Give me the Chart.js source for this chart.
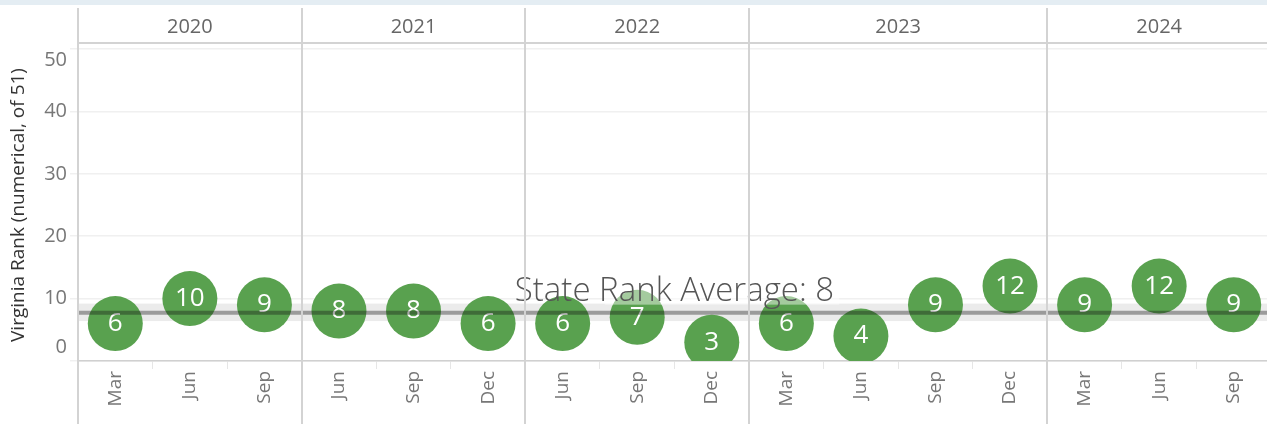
<!DOCTYPE html>
<html>
<head>
<meta charset="utf-8">
<script src="https://cdn.jsdelivr.net/npm/chart.js@4.4.1/dist/chart.umd.min.js"></script>
<style>
  html, body { margin: 0; padding: 0; background: #fff; overflow: hidden; }
  #topbar { position: absolute; left: 0; top: 0; width: 1267px; height: 5px; background: #e4edf3; }
  #wrap { position: absolute; left: 0; top: 0; width: 1271px; height: 424px; }
</style>
</head>
<body>
<div id="wrap"><canvas id="myChart" width="1271" height="424"></canvas></div>
<div id="topbar"></div>
<script>
'use strict'
// quarters shown, one per column
let months = ['Mar', 'Jun', 'Sep', 'Jun', 'Sep', 'Dec', 'Jun', 'Sep', 'Dec', 'Mar', 'Jun', 'Sep', 'Dec', 'Mar', 'Jun', 'Sep'];
let years = [2020, 2020, 2020, 2021, 2021, 2021, 2022, 2022, 2022, 2023, 2023, 2023, 2023, 2024, 2024, 2024];
let ranks = [6, 10, 9, 8, 8, 6, 6, 7, 3, 6, 4, 9, 12, 9, 12, 9];
let yTicks = [0, 10, 20, 30, 40, 50];
let bandLow = 6.4;
let bandHigh = 9.2;

let avgRank = ranks.reduce((a, b) => a + b, 0) / ranks.length;

let green = '#59a14f';
let fontName = '"Open Sans", Lato, sans-serif';

let tableauBits = {
    id: 'tableauBits',
    beforeDatasetsDraw(chart) {
        let ctx = chart.ctx;
        let area = chart.chartArea;
        let y = chart.scales.y;
        ctx.save();
        ctx.fillStyle = '#ebebeb';
        let top = y.getPixelForValue(bandHigh);
        let bot = y.getPixelForValue(bandLow);
        ctx.fillRect(area.left, top, area.right - area.left, bot - top);
        ctx.restore();
    },
    afterDatasetsDraw(chart) {
        let ctx = chart.ctx;
        let area = chart.chartArea;
        let y = chart.scales.y;
        let pts = chart.getDatasetMeta(0).data;

        // labels in the circles
        ctx.save();
        ctx.fillStyle = '#ffffff';
        ctx.font = '26px ' + fontName;
        ctx.textAlign = 'center';
        ctx.textBaseline = 'middle';
        for (let i = 0; i < pts.length; i++) {
            ctx.fillText(String(ranks[i]), pts[i].x, pts[i].y);
        }
        ctx.restore();

        // average line
        let ay = y.getPixelForValue(avgRank);
        ctx.save();
        ctx.strokeStyle = 'rgba(20,20,20,0.37)';
        ctx.lineWidth = 4;
        ctx.beginPath();
        ctx.moveTo(area.left, ay);
        ctx.lineTo(area.right, ay);
        ctx.stroke();

        // average label
        let txt = 'State Rank Average: ' + Math.round(avgRank);
        ctx.font = '300 33px ' + fontName;
        let w = ctx.measureText(txt).width;
        let cx = (area.left + area.right) / 2;
        ctx.fillStyle = 'rgba(255,255,255,0.45)';
        ctx.fillRect(cx - w / 2 + 90, ay - 45, w - 85, 37);
        ctx.fillStyle = '#555555';
        ctx.textAlign = 'center';
        ctx.textBaseline = 'alphabetic';
        ctx.fillText(txt, cx, ay - 12);
        ctx.restore();
    },
    afterDraw(chart) {
        let ctx = chart.ctx;
        let area = chart.chartArea;
        let x = chart.scales.x;
        let y = chart.scales.y;
        ctx.save();

        // pane boundaries
        let bounds = [area.left];
        for (let i = 1; i < years.length; i++) {
            if (years[i] !== years[i - 1]) {
                bounds.push((x.getPixelForValue(i - 1) + x.getPixelForValue(i)) / 2);
            }
        }
        ctx.strokeStyle = '#d3d3d3';
        ctx.lineWidth = 2;
        bounds.forEach(b => {
            ctx.beginPath();
            ctx.moveTo(Math.round(b), 8);
            ctx.lineTo(Math.round(b), 424);
            ctx.stroke();
        });
        // header line
        ctx.beginPath();
        ctx.moveTo(area.left, 43);
        ctx.lineTo(area.right, 43);
        ctx.stroke();

        // year headers
        ctx.fillStyle = '#666666';
        ctx.font = '20px ' + fontName;
        ctx.textAlign = 'center';
        ctx.textBaseline = 'middle';
        let uniq = [...new Set(years)];
        uniq.forEach((yr, k) => {
            let l = bounds[k];
            let r = k + 1 < bounds.length ? bounds[k + 1] : area.right;
            ctx.fillText(String(yr), (l + r) / 2, 27);
        });

        // y tick labels, kept inside the pane like Tableau does
        ctx.fillStyle = '#777777';
        ctx.font = '20px ' + fontName;
        ctx.textAlign = 'right';
        yTicks.forEach(v => {
            let py = y.getPixelForValue(v);
            py = Math.max(area.top + 11, Math.min(area.bottom - 14, py));
            ctx.fillText(String(v), 67, py);
        });
        ctx.restore();
    }
};

let ctx = document.getElementById('myChart').getContext('2d');
let myChart = new Chart(ctx, {
    type: 'line',
    data: {
        labels: months,
        datasets: [{
            label: 'Virginia Rank',
            data: ranks,
            showLine: false,
            pointRadius: 27.5,
            pointHoverRadius: 27.5,
            pointBackgroundColor: green,
            pointBorderWidth: 0,
            clip: 0
        }]
    },
    options: {
        responsive: false,
        animation: false,
        events: [],
        layout: { autoPadding: false, padding: { top: 49, left: 0, right: 0, bottom: 0 } },
        plugins: {
            legend: { display: false },
            tooltip: { enabled: false }
        },
        scales: {
            x: {
                type: 'category',
                offset: true,
                afterFit: s => { s.height = 63; s.paddingLeft = 0; s.paddingRight = 0; },
                border: { display: true, color: '#d0d0d0', width: 1.5 },
                grid: {
                    offset: true,
                    drawOnChartArea: false,
                    drawTicks: true,
                    tickLength: 8,
                    tickColor: '#e6e6e6'
                },
                ticks: {
                    maxRotation: 90,
                    minRotation: 90,
                    autoSkip: false,
                    padding: 2,
                    color: '#777777',
                    font: { family: fontName, size: 19 }
                }
            },
            y: {
                min: 0,
                max: 50,
                afterFit: s => { s.width = 78; s.paddingTop = 0; s.paddingBottom = 0; },
                border: { display: false },
                grid: {
                    color: '#f0f0f0',
                    lineWidth: 1.5,
                    tickLength: 8,
                    tickColor: '#f0f0f0'
                },
                ticks: {
                    stepSize: 10,
                    display: false
                },
                title: {
                    display: true,
                    text: 'Virginia Rank (numerical, of 51)',
                    color: '#333333',
                    font: { family: fontName, size: 19 },
                    padding: { top: 7, bottom: 0 }
                }
            }
        }
    },
    plugins: [tableauBits]
});
</script>
</body>
</html>
